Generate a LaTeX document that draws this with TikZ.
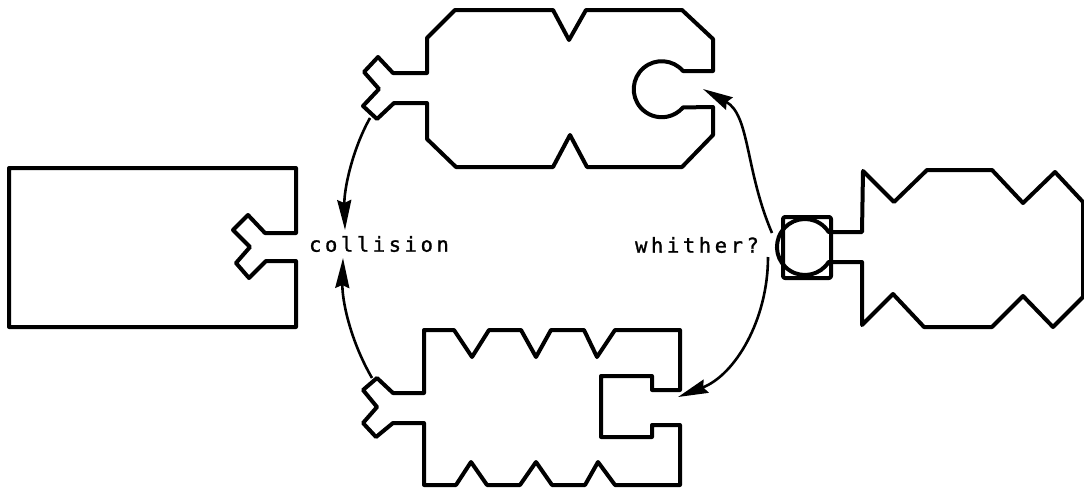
\documentclass[tikz,border=0pt]{standalone}
\usepackage{fontspec}
\usetikzlibrary{arrows.meta}
\newfontfamily\monofnt[LetterSpace=17.5,FakeBold=1.2]{DejaVu Sans Mono}
\begin{document}
\begin{tikzpicture}[x=1pt,y=-1pt,
  piece/.style={line width=4pt,line join=round},
  arr/.style={line width=2.6pt,arrows={-Stealth[length=30pt,width=14pt,inset=3pt]}},
  lbl/.style={font=\monofnt\fontsize{20.5}{24}\selectfont,inner sep=0pt}]
\useasboundingbox (0,0) rectangle (1084,490);
% left block with Y cavity
\draw[piece] (9,168) -- (296,168) -- (296,233) -- (265,233) -- (248,215) -- (233,230)
  -- (250,247) -- (236,263) -- (249,278) -- (266,261) -- (296,261) -- (296,327)
  -- (9,327) -- cycle;
% top piece
\draw[piece] (427,38) -- (455,10) -- (553,10) -- (569,40) -- (586,10) -- (682,10)
  -- (713,39) -- (713,71) -- (683,71) arc[start angle=-40.6,end angle=-319.4,radius=28]
  -- (713,107) -- (713,135) -- (682,167) -- (587,167) -- (570,135) -- (553,167)
  -- (456,167) -- (427,139) -- (427,103) -- (394,103) -- (377,119) -- (363,106)
  -- (379,89) -- (364,72) -- (378,57) -- (393,73) -- (427,73) -- cycle;
% bottom piece
\draw[piece] (424,330) -- (454,330) -- (472,357) -- (489,330) -- (521,330) -- (536,357)
  -- (551,330) -- (584,330) -- (597,357) -- (615,330) -- (680,330) -- (680,390)
  -- (652,390) -- (652,376) -- (601,376) -- (601,437) -- (652,437) -- (652,425)
  -- (680,425) -- (680,485) -- (615,485) -- (598,462) -- (585,485) -- (552,485)
  -- (536,462) -- (520,485) -- (487,485) -- (471,462) -- (456,485) -- (424,485)
  -- (424,423) -- (393,423) -- (376,437) -- (363,423) -- (377,407) -- (363,390)
  -- (377,378) -- (393,393) -- (424,393) -- cycle;
% right piece with ball
\draw[piece] (862,232) -- (863,171) -- (894,202) -- (927,170) -- (992,170) -- (1023,203)
  -- (1055,172) -- (1083,202) -- (1083,297) -- (1053,327) -- (1023,296) -- (992,327)
  -- (924,327) -- (893,294) -- (862,325) -- (862,262) -- (828.6,262)
  arc[start angle=32.4,end angle=327.6,radius=28] -- cycle;
\draw[piece,rounded corners=2pt] (783,217) rectangle (831,278);
% labels
\node[lbl] (col) at (379,244) {collision};
\node[lbl] (whi) at (697,245) {whither?};
% arrow end points
\coordinate (c1s) at (370,118);
\coordinate (c1e) at (345,230);
\coordinate (c2s) at (372,378);
\coordinate (c2e) at (343,258);
\coordinate (w1s) at (772,233);
\coordinate (w1e) at (703,89);
\coordinate (w2s) at (768,257);
\coordinate (w2e) at (678,397);
\draw[arr] (c1s) .. controls (352,150) and (344,190) .. (c1e);
\draw[arr] (c2s) .. controls (350,340) and (342,300) .. (c2e);
\draw[arr] (w1s) .. controls (745,170) and (750,115) .. (w1e);
\draw[arr] (w2s) .. controls (768,320) and (735,375) .. (w2e);
\end{tikzpicture}
\end{document}
